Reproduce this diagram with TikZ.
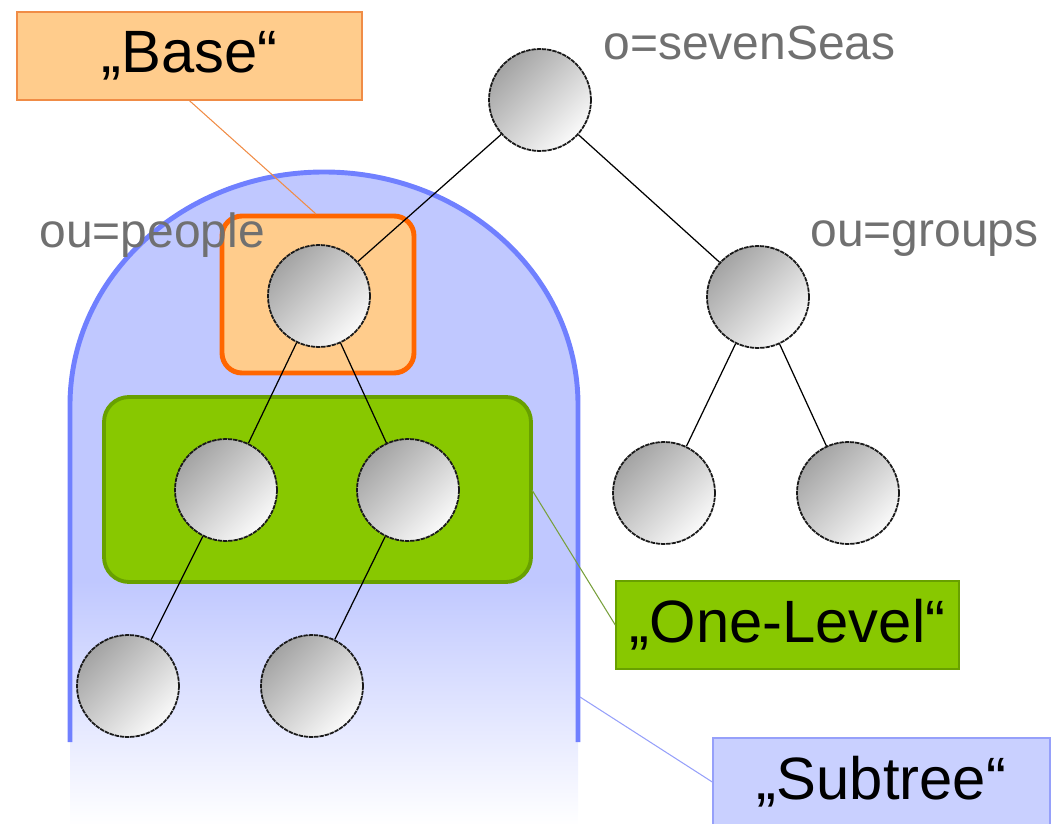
\documentclass[tikz,border=0pt]{standalone}
\usepackage{fontspec}
\setmainfont{Liberation Sans}
\usetikzlibrary{positioning}

\definecolor{baseorange}{RGB}{255,204,140}
\definecolor{baseedge}{RGB}{240,140,70}
\definecolor{frameorange}{RGB}{255,102,0}
\definecolor{subblue}{RGB}{192,200,255}
\definecolor{archblue}{RGB}{112,128,255}
\definecolor{subtreeline}{RGB}{150,160,250}
\definecolor{levelgreen}{RGB}{136,200,0}
\definecolor{levelborder}{RGB}{104,160,0}
\definecolor{levelline}{RGB}{120,160,60}
\definecolor{dngray}{RGB}{112,112,112}

\tikzset{
  entry/.style={circle, minimum size=2.04cm, inner sep=0pt, draw=black!90,
    line width=1pt, dash pattern=on 2.5pt off 0.5pt,
    top color=black!36, bottom color=black!2, shading angle=45},
  dn/.style={inner sep=0pt, anchor=base west, text=dngray,
    font=\fontsize{27.3}{30}\selectfont},
  scopebox/.style={line width=0.8pt, minimum width=6.9cm, minimum height=1.76cm,
    inner sep=0pt, font=\fontsize{34}{40}\selectfont},
  link/.style={draw=black, line width=0.7pt},
}

\begin{document}
\begin{tikzpicture}[x=0.2mm, y=0.2mm, on grid]
	\useasboundingbox (0,0) rectangle (1053,-824);

	% Scope areas
	% Subtree
	\fill[subblue] (70,-582) -- (70,-405)
		arc[start angle=180, end angle=0, x radius=5.08cm, y radius=4.66cm]
		-- (578,-582) -- cycle;
	\shade[top color=subblue, bottom color=white] (70,-826) rectangle (578,-581);
	\draw[archblue, line width=2.8pt] (70,-742) -- (70,-405)
		arc[start angle=180, end angle=0, x radius=5.08cm, y radius=4.66cm]
		-- (578,-742);
	% Base
	\draw[frameorange, fill=baseorange, line width=2.8pt, rounded corners=0.4cm]
		(222,-216) rectangle (414,-373);
	% One level
	\draw[levelborder, fill=levelgreen, line width=2.2pt, rounded corners=0.5cm]
		(104,-397) rectangle (531,-582);

	% Nodes
	% Root
	\node[entry] (seas) at (540,-100) {};
	% Organisational units
	\node[entry, below=3.92cm of seas, xshift=-4.42cm] (people) {};
	\node[entry, below=3.94cm of seas, xshift=4.36cm] (groups) {};
	% Below people
	\node[entry, below=3.88cm of people, xshift=-1.86cm] (p-left) {};
	\node[entry, below=3.88cm of people, xshift=1.78cm] (p-right) {};
	\node[entry, below=3.92cm of p-left, xshift=-1.96cm] (pl-leaf) {};
	\node[entry, below=3.92cm of p-right, xshift=-1.92cm] (pr-leaf) {};
	% Below groups
	\node[entry, below=3.92cm of groups, xshift=-1.88cm] (g-left) {};
	\node[entry, below=3.92cm of groups, xshift=1.8cm] (g-right) {};

	% Names
	\node[dn] (seas-dn) at (603,-60) {o=sevenSeas};
	\node[dn] (people-dn) at (39,-248) {ou=people};
	\node[dn] (groups-dn) at (810,-247) {ou=groups};

	% Edges
	\draw[link] (seas) -- (people);
	\draw[link] (seas) -- (groups);
	\draw[link] (people) -- (p-left);
	\draw[link] (people) -- (p-right);
	\draw[link] (p-left) -- (pl-leaf);
	\draw[link] (p-right) -- (pr-leaf);
	\draw[link] (groups) -- (g-left);
	\draw[link] (groups) -- (g-right);

	% Callouts
	\node[scopebox, fill=baseorange, draw=baseedge] (base) at (189.5,-56) {„Base“};
	\node[scopebox, fill=levelgreen, draw=levelborder, minimum width=6.86cm]
		(onelevel) at (787.5,-625) {„One-Level“};
	\node[scopebox, fill=subblue!85, draw=subtreeline, minimum width=6.74cm]
		(subtree) at (881.5,-782) {„Subtree“};
	\coordinate (base-tip) at (316,-214);
	\coordinate (level-tip) at (532,-490);
	\coordinate (subtree-tip) at (580,-697);
	\draw[draw=baseedge, line width=0.6pt] (base.south) -- (base-tip);
	\draw[draw=levelline, line width=0.6pt] (level-tip) -- (onelevel.west);
	\draw[draw=subtreeline, line width=0.6pt] (subtree-tip) -- (subtree.west);
\end{tikzpicture}
\end{document}
